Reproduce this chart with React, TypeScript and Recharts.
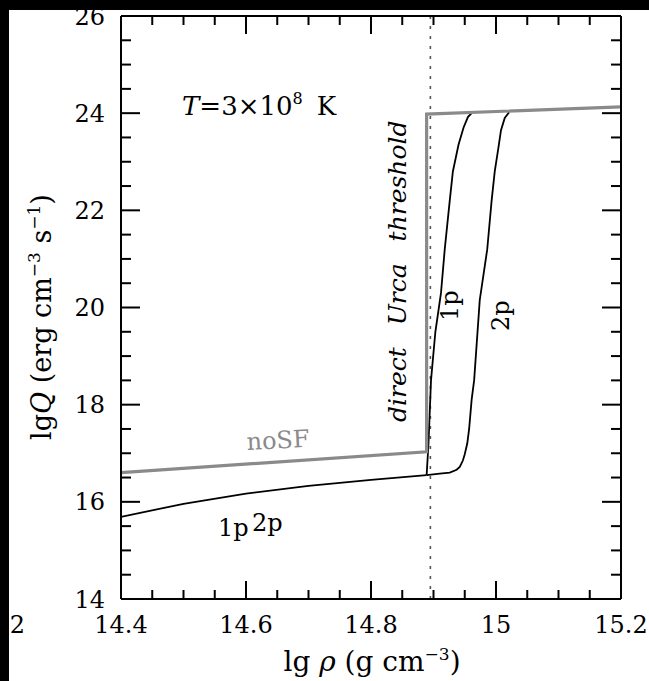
import React from 'react';
import { LineChart, Line, XAxis, YAxis, ReferenceLine } from 'recharts';

// ---------- data ----------
const xMajorTicks = [14.4, 14.6, 14.8, 15, 15.2];
const xAllTicks = [14.4, 14.45, 14.5, 14.55, 14.6, 14.65, 14.7, 14.75, 14.8, 14.85, 14.9, 14.95, 15, 15.05, 15.1, 15.15, 15.2];
const yMajorTicks = [14, 16, 18, 20, 22, 24, 26];
const yAllTicks = [14, 14.5, 15, 15.5, 16, 16.5, 17, 17.5, 18, 18.5, 19, 19.5, 20, 20.5, 21, 21.5, 22, 22.5, 23, 23.5, 24, 24.5, 25, 25.5, 26];

const urcaThreshold = 14.895;

// no superfluidity (grey)
const noSF = [
  { x: 14.4, y: 16.6 },
  { x: 14.889, y: 17.03 },
  { x: 14.889, y: 23.98 },
  { x: 15.2, y: 24.13 },
];

// common low-density branch of 1p and 2p
const sfCommon = [
  { x: 14.4, y: 15.69 },
  { x: 14.5, y: 15.96 },
  { x: 14.6, y: 16.17 },
  { x: 14.7, y: 16.33 },
  { x: 14.8, y: 16.45 },
  { x: 14.889, y: 16.55 },
];

const sf1p = [
  { x: 14.889, y: 16.55 },
  { x: 14.892, y: 17.2 },
  { x: 14.896, y: 18.5 },
  { x: 14.903, y: 19.5 },
  { x: 14.912, y: 20.3 },
  { x: 14.918, y: 21.2 },
  { x: 14.926, y: 22.2 },
  { x: 14.931, y: 22.8 },
  { x: 14.94, y: 23.35 },
  { x: 14.948, y: 23.7 },
  { x: 14.955, y: 23.92 },
  { x: 14.961, y: 24.0 },
];

const sf2p = [
  { x: 14.889, y: 16.55 },
  { x: 14.91, y: 16.58 },
  { x: 14.926, y: 16.6 },
  { x: 14.937, y: 16.66 },
  { x: 14.942, y: 16.72 },
  { x: 14.947, y: 16.85 },
  { x: 14.95, y: 16.98 },
  { x: 14.954, y: 17.2 },
  { x: 14.957, y: 17.5 },
  { x: 14.961, y: 18.1 },
  { x: 14.965, y: 18.5 },
  { x: 14.974, y: 20.15 },
  { x: 14.986, y: 21.2 },
  { x: 14.993, y: 22.2 },
  { x: 14.998, y: 22.8 },
  { x: 15.004, y: 23.3 },
  { x: 15.008, y: 23.65 },
  { x: 15.014, y: 23.9 },
  { x: 15.021, y: 24.02 },
];

// ---------- style ----------
const FONT = '"DejaVu Serif", serif';
const GREY = '#8a8a8a';
const W = 649;
const H = 681;
const TICK_FONT = 24;

const isMajor = (v: number, majors: number[]) => majors.some((m) => Math.abs(m - v) < 1e-6);

const BottomTick = (props: any) => {
  const { x, y, payload } = props;
  const major = isMajor(payload.value, xMajorTicks);
  return (
    <g>
      <line x1={x} x2={x} y1={y} y2={y - (major ? 18 : 9)} stroke="#000" strokeWidth={2} />
      {major && (
        <text x={x} y={y + 34} textAnchor="middle" fontFamily={FONT} fontSize={TICK_FONT} fill="#000">
          {String(payload.value)}
        </text>
      )}
    </g>
  );
};

const TopTick = (props: any) => {
  const { x, y, payload } = props;
  const major = isMajor(payload.value, xMajorTicks);
  return <line x1={x} x2={x} y1={y} y2={y + (major ? 18 : 9)} stroke="#000" strokeWidth={2} />;
};

const LeftTick = (props: any) => {
  const { x, y, payload } = props;
  const major = isMajor(payload.value, yMajorTicks);
  return (
    <g>
      <line x1={x} x2={x + (major ? 19 : 10)} y1={y} y2={y} stroke="#000" strokeWidth={2} />
      {major && (
        <text x={x - 16} y={y + 8.5} textAnchor="end" fontFamily={FONT} fontSize={TICK_FONT} fill="#000">
          {String(payload.value)}
        </text>
      )}
    </g>
  );
};

const RightTick = (props: any) => {
  const { x, y, payload } = props;
  const major = isMajor(payload.value, yMajorTicks);
  return <line x1={x} x2={x - (major ? 19 : 10)} y1={y} y2={y} stroke="#000" strokeWidth={2} />;
};

export default function App() {
  return (
    <div style={{ position: 'absolute', left: 0, top: 0, width: W, height: H, background: '#fff', overflow: 'hidden' }}>
      <style>{'html,body{margin:0;padding:0;background:#fff;overflow:hidden;}'}</style>
      <LineChart width={W} height={H} margin={{ top: 0, right: 0, bottom: 0, left: 0 }}>
        <XAxis
          xAxisId="bottom"
          dataKey="x"
          type="number"
          domain={[14.4, 15.2]}
          allowDataOverflow
          ticks={xAllTicks}
          interval={0}
          height={82}
          tickSize={0}
          tickMargin={0}
          tickLine={false}
          axisLine={{ stroke: '#000', strokeWidth: 2 }}
          tick={<BottomTick />}
        />
        <XAxis
          xAxisId="top"
          orientation="top"
          dataKey="x"
          type="number"
          domain={[14.4, 15.2]}
          allowDataOverflow
          ticks={xAllTicks}
          interval={0}
          height={16}
          tickSize={0}
          tickMargin={0}
          tickLine={false}
          axisLine={{ stroke: '#000', strokeWidth: 2 }}
          tick={<TopTick />}
        />
        <YAxis
          yAxisId="left"
          type="number"
          domain={[14, 26]}
          allowDataOverflow
          ticks={yAllTicks}
          interval={0}
          width={121}
          tickSize={0}
          tickMargin={0}
          tickLine={false}
          axisLine={{ stroke: '#000', strokeWidth: 2 }}
          tick={<LeftTick />}
        />
        <YAxis
          yAxisId="right"
          orientation="right"
          type="number"
          domain={[14, 26]}
          allowDataOverflow
          ticks={yAllTicks}
          interval={0}
          width={28}
          tickSize={0}
          tickMargin={0}
          tickLine={false}
          axisLine={{ stroke: '#000', strokeWidth: 2 }}
          tick={<RightTick />}
        />
        <ReferenceLine
          xAxisId="bottom"
          yAxisId="left"
          x={urcaThreshold}
          stroke="#555"
          strokeWidth={1.6}
          strokeDasharray="3 7"
        />
        <Line xAxisId="bottom" yAxisId="left" data={sfCommon} dataKey="y" type="linear" stroke="#000" strokeWidth={1.8} dot={false} isAnimationActive={false} />
        <Line xAxisId="bottom" yAxisId="left" data={sf1p} dataKey="y" type="linear" stroke="#000" strokeWidth={1.8} dot={false} isAnimationActive={false} />
        <Line xAxisId="bottom" yAxisId="left" data={sf2p} dataKey="y" type="linear" stroke="#000" strokeWidth={1.8} dot={false} isAnimationActive={false} />
        <Line xAxisId="bottom" yAxisId="left" data={noSF} dataKey="y" type="linear" stroke={GREY} strokeWidth={3.2} dot={false} isAnimationActive={false} />
      </LineChart>

      {/* annotations */}
      <svg width={W} height={H} style={{ position: 'absolute', left: 0, top: 0, pointerEvents: 'none' }} fontFamily={FONT}>
        <text x={182} y={115} fontSize={26} fill="#000">
          <tspan fontStyle="italic">T</tspan>
          <tspan>=3×10</tspan>
          <tspan dy={-11} fontSize={16}>8</tspan>
          <tspan dy={11} dx={14}>K</tspan>
        </text>
        <text transform="translate(406,422) rotate(-90)" fontSize={25} fontStyle="italic" fill="#000" wordSpacing={14}>
          direct Urca threshold
        </text>
        <text transform="translate(458,321) rotate(-90)" fontSize={24} fill="#000">1p</text>
        <text transform="translate(509,331) rotate(-90)" fontSize={24} fill="#000">2p</text>
        <text transform="translate(247,450) rotate(-3)" fontSize={24} fill={GREY}>noSF</text>
        <text x={218} y={536} fontSize={24} fill="#000">1p</text>
        <text x={252} y={531} fontSize={24} fill="#000">2p</text>
        <text x={25} y={633} textAnchor="end" fontSize={TICK_FONT} fill="#000">2</text>
        <text x={372} y={671} textAnchor="middle" fontSize={28} fill="#000">
          lg <tspan fontStyle="italic">ρ</tspan> (g cm<tspan dy={-11} fontSize={17}>−3</tspan><tspan dy={11}>)</tspan>
        </text>
        <text transform="translate(51,317) rotate(-90)" textAnchor="middle" fontSize={27} fill="#000">
          lg<tspan fontStyle="italic">Q</tspan> (erg cm<tspan dy={-11} fontSize={17}>−3</tspan><tspan dy={11}> s</tspan><tspan dy={-11} fontSize={17}>−1</tspan><tspan dy={11}>)</tspan>
        </text>
      </svg>

      {/* black borders of the scanned figure */}
      <div style={{ position: 'absolute', left: 0, top: 0, width: W, height: 10, background: '#000' }} />
      <div style={{ position: 'absolute', left: 0, top: 0, width: 9, height: H, background: '#000' }} />
    </div>
  );
}
